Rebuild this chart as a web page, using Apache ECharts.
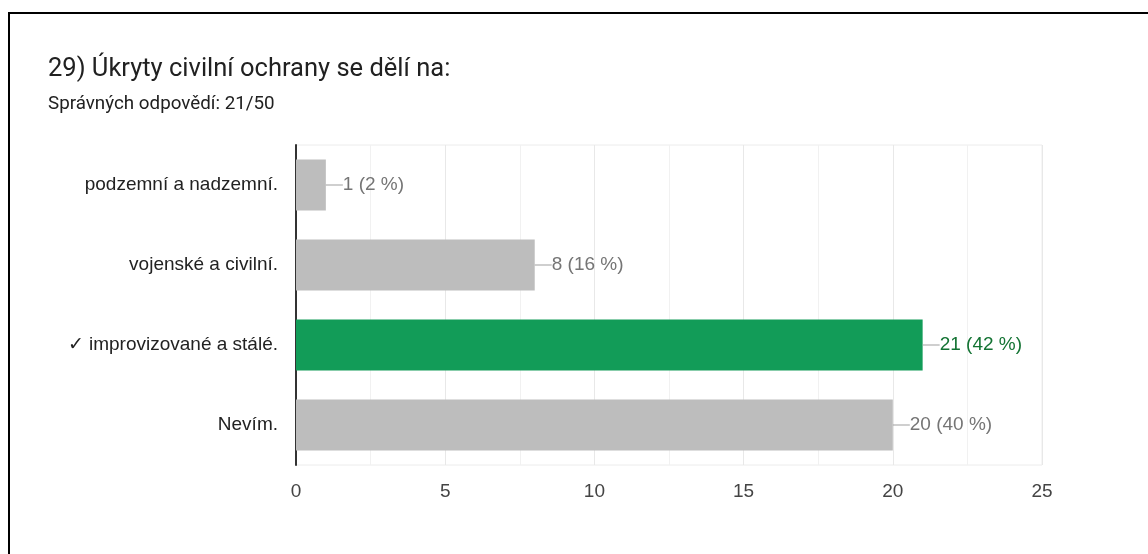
<!DOCTYPE html>
<html>
<head>
<meta charset="utf-8">
<script src="https://cdn.jsdelivr.net/npm/echarts@6/dist/echarts.min.js"></script>
<style>
  html, body { margin: 0; padding: 0; background: #fff; }
  #wrap { position: relative; width: 1148px; height: 554px; overflow: hidden; }
  #frame { position: absolute; left: 8px; top: 12px; right: -10px; bottom: -10px; border-top: 2px solid #000; border-left: 2px solid #000; }
  #chart { position: absolute; left: 0; top: 0; width: 1148px; height: 554px; }
</style>
</head>
<body>
<div id="wrap">
  <div id="frame"></div>
  <div id="chart"></div>
</div>
<script>
const titleText = '29) Úkryty civilní ochrany se dělí na:';
const subtitleText = 'Správných odpovědí: 21/50';
const categories = ['podzemní a nadzemní.', 'vojenské a civilní.', '✓ improvizované a stálé.', 'Nevím.'];
const values = [1, 8, 21, 20];
const percents = [2, 16, 42, 40];
const correct = [false, false, true, false];
const xTicks = [0, 5, 10, 15, 20, 25];

const GRAY = '#bdbdbd', GREEN = '#129c58';
const LBL_GRAY = '#757575', LBL_GREEN = '#137333';
const FONT = 'Liberation Sans, Arial';

const chart = echarts.init(document.getElementById('chart'));
chart.setOption({
  animation: false,
  title: [
    { text: titleText, left: 48, top: 57, padding: 0, textStyle: { fontFamily: 'Roboto', fontSize: 25.5, lineHeight: 26, fontWeight: 'normal', color: '#212121' } },
    { text: subtitleText, left: 48, top: 94, padding: 0, textStyle: { fontFamily: 'Roboto', fontSize: 18.8, lineHeight: 20, fontWeight: 'normal', color: '#212121' } }
  ],
  grid: { left: 296, right: 106, top: 145, bottom: 89, show: true, borderColor: '#ececec', borderWidth: 1, containLabel: false },
  xAxis: {
    type: 'value', min: xTicks[0], max: xTicks[xTicks.length - 1], interval: 5,
    axisLine: { show: false }, axisTick: { show: false },
    axisLabel: { color: '#444', fontSize: 19, fontFamily: FONT, margin: 17 },
    splitLine: { lineStyle: { color: '#e8e8e8' } },
    minorTick: { show: false, splitNumber: 2 },
    minorSplitLine: { show: true, lineStyle: { color: '#f1f1f1' } }
  },
  yAxis: {
    type: 'category', inverse: true, data: categories,
    axisLine: { show: true, lineStyle: { color: '#333', width: 2 } },
    axisTick: { show: false },
    axisLabel: { color: '#222', fontSize: 19, fontFamily: FONT, margin: 18 },
    splitLine: { show: false }
  },
  series: [{
    type: 'bar',
    barWidth: 51,
    data: values.map((v, i) => ({
      value: v,
      itemStyle: { color: correct[i] ? GREEN : GRAY },
      label: {
        formatter: '{ln|}{' + (correct[i] ? 'g' : 't') + '|' + v + ' (' + percents[i] + ' %)}'
      }
    })),
    label: {
      show: true, position: 'right', distance: 0,
      rich: {
        ln: { width: 17, height: 1, backgroundColor: '#9e9e9e' },
        t: { color: LBL_GRAY, fontSize: 19, fontFamily: FONT },
        g: { color: LBL_GREEN, fontSize: 19, fontFamily: FONT }
      }
    }
  }]
});
</script>
</body>
</html>
